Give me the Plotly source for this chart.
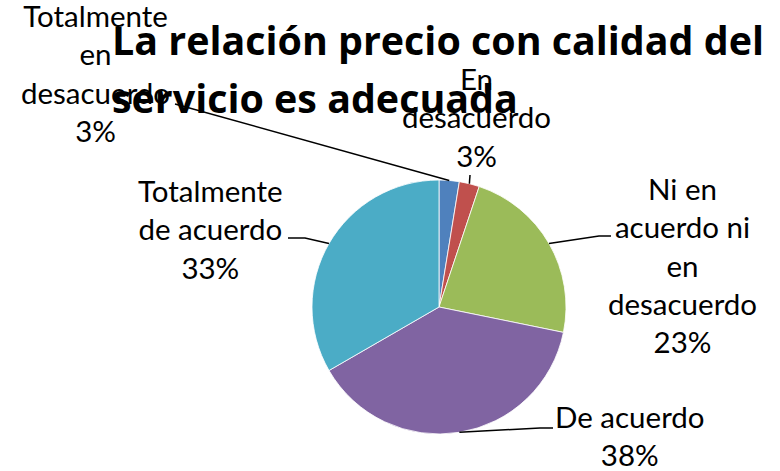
import math
import plotly.graph_objects as go

# ---- data ----
categories = ["Totalmente en desacuerdo", "En desacuerdo",
              "Ni en acuerdo ni en desacuerdo", "De acuerdo",
              "Totalmente de acuerdo"]
counts = [1, 1, 9, 15, 13]
label_texts = ["Totalmente<br>en<br>desacuerdo", "En<br>desacuerdo",
               "Ni en<br>acuerdo ni<br>en<br>desacuerdo", "De acuerdo",
               "Totalmente<br>de acuerdo"]
colors = ["#4F81BD", "#C0504D", "#9BBB59", "#8064A2", "#4BACC6"]
title_lines = ["La relación precio con calidad del", "servicio es adecuada"]

W, H = 780, 471
# pie placement (pixels)
CX, CY, R = 439, 307, 127

def px(x):
    return x / W

def py(y):
    return 1 - y / H

fig = go.Figure(go.Pie(
    labels=categories, values=counts, sort=False, direction="clockwise",
    rotation=0, textinfo="none", hoverinfo="label+percent",
    marker=dict(colors=colors, line=dict(color="white", width=0.8)),
    domain=dict(x=[px(CX - R), px(CX + R)], y=[py(CY + R), py(CY - R)]),
    showlegend=False,
))

# label layout: (text center x, text center y, leader path elbow points after slice point)
label_layout = [
    (95, 73, [(175, 104)]),
    (476, 117, [(470, 175)]),
    (682, 265, [(599, 236), (611, 236)]),
    (630, 435, [(540, 428), (553, 428)]),
    (210, 229, [(305, 238), (288, 238)]),
]

total = sum(counts)
cum = 0
annotations = []
shapes = []
for i, v in enumerate(counts):
    mid = (cum + v / 2) / total * 2 * math.pi
    cum += v
    sx = CX + R * math.sin(mid)
    sy = CY - R * math.cos(mid)
    pct = round(v / total * 100)
    tx, ty, elbows = label_layout[i]
    annotations.append(dict(
        x=px(tx), y=py(ty), xref="paper", yref="paper",
        text=f"{label_texts[i]}<br>{pct}%", showarrow=False,
        xanchor="center", yanchor="middle", align="center",
        font=dict(family="Lato", size=29.5, color="black")))
    pts = [(sx, sy)] + elbows
    path = "M " + " L ".join(f"{px(a):.5f},{py(b):.5f}" for a, b in pts)
    shapes.append(dict(type="path", path=path, xref="paper", yref="paper",
                       line=dict(color="black", width=1.5)))

# title lines
for j, (t, yy) in enumerate(zip(title_lines, [40, 98])):
    annotations.append(dict(
        x=px(110), y=py(yy), xref="paper", yref="paper", text=f"<b>{t}</b>",
        showarrow=False, xanchor="left", yanchor="middle",
        font=dict(family="Open Sans", size=39.4, color="black")))

fig.update_layout(
    width=W, height=H, margin=dict(l=0, r=0, t=0, b=0),
    paper_bgcolor="white", plot_bgcolor="white",
    annotations=annotations, shapes=shapes,
)

fig.write_html("out.html", config={"displayModeBar": False},
               post_script="document.body.style.margin='0';")
